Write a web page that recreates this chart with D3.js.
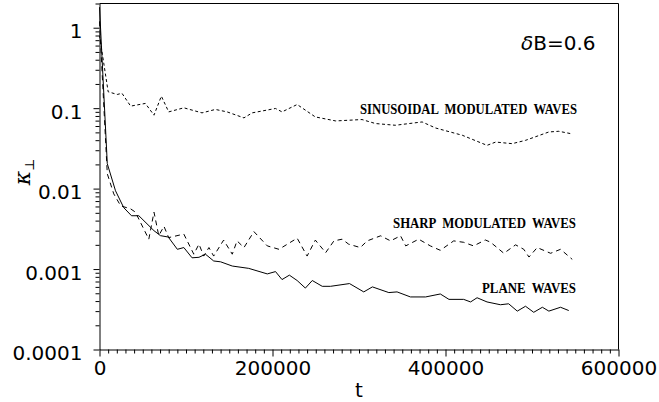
<!DOCTYPE html>
<html>
<head>
<meta charset="utf-8">
<script src="https://cdn.jsdelivr.net/npm/d3@7"></script>
<style>
  body { margin: 0; background: #fff; }
  svg { display: block; }
</style>
</head>
<body>
<script>
'use strict';

// plane waves (solid line)
const planeT = [0, 9000, 18500, 28000, 37000, 45500, 63000, 70500, 79500, 90000, 97500,
  107000, 115000, 122500, 132000, 140000, 153500, 172500, 194000, 203500, 211000,
  219500, 228500, 238000, 246000, 257500, 267000, 289000, 305500, 315500, 334500,
  344000, 359500, 377000, 394000, 404000, 421000, 429000, 436500, 448000, 463500,
  473000, 483000, 492500, 502000, 512000, 519500, 533000, 542500];
const planeK = [1.8, 0.0204, 0.0094, 0.0058, 0.0046, 0.0046, 0.0030, 0.0026, 0.0025, 0.00176, 0.00185,
  0.00138, 0.0014, 0.00153, 0.00126, 0.00123, 0.00109, 0.00102, 0.00087, 0.00093, 0.00074,
  0.00084, 0.00072, 0.00058, 0.00072, 0.00061, 0.00061, 0.00066, 0.00052, 0.00060, 0.00051,
  0.00052, 0.00045, 0.00045, 0.00049, 0.00042, 0.00042, 0.00039, 0.00044, 0.00039, 0.00036,
  0.00037, 0.00030, 0.000345, 0.00029, 0.000335, 0.00030, 0.000335, 0.000305];

// sharp modulated waves (dashed line)
const sharpT = [0, 9000, 16500, 24500, 36000, 41500, 57000, 63000, 68500, 74500,
  80000, 97500, 109000, 115000, 120500, 126500, 132000, 143500, 153500, 159000,
  167000, 178500, 194000, 207500, 228500, 240000, 249500, 261500, 271000, 280500,
  288000, 301500, 309500, 325000, 336500, 348000, 354000, 369000, 382500, 394000,
  409500, 421000, 432500, 446000, 452000, 467500, 481000, 490500, 496500, 506000,
  521500, 533000, 546500];
const sharpK = [1.2, 0.0153, 0.0086, 0.0061, 0.0056, 0.0051, 0.00235, 0.0051, 0.0026, 0.0034,
  0.00246, 0.00272, 0.00153, 0.00204, 0.00145, 0.00185, 0.00145, 0.00229, 0.00153, 0.00224,
  0.00185, 0.00292, 0.00194, 0.00176, 0.00242, 0.00145, 0.00229, 0.0016, 0.00224, 0.00235,
  0.00204, 0.00185, 0.00224, 0.00259, 0.00224, 0.00259, 0.00194, 0.00235, 0.00194, 0.00171,
  0.00224, 0.00215, 0.00194, 0.0023, 0.00216, 0.00157, 0.002, 0.00176, 0.00141, 0.00185,
  0.00157, 0.00176, 0.00132];

// sinusoidal modulated waves (dotted line)
const sinT = [0, 10000, 20500, 26000, 36000, 53000, 63000, 71500, 80000, 97500,
  118500, 134000, 147500, 167000, 176500, 203500, 211000, 228500, 249500, 273000,
  303500, 319000, 342000, 373000, 388500, 419500, 448000, 458000, 477000, 492500,
  519500, 531000, 544500];
const sinK = [0.8, 0.160, 0.148, 0.153, 0.106, 0.1145, 0.0818, 0.141, 0.0899, 0.101,
  0.0874, 0.0964, 0.0899, 0.0757, 0.0874, 0.0991, 0.0899, 0.111, 0.0778, 0.0694,
  0.0722, 0.0644, 0.0613, 0.0674, 0.0567, 0.046, 0.0345, 0.0379, 0.0362, 0.0398,
  0.0506, 0.0516, 0.0483];

// tick values and labels
const xTicks = [0, 200000, 400000, 600000];
const xTickLabels = ['0', '200000', '400000', '600000'];
const yTicks = [0.0001, 0.001, 0.01, 0.1, 1];
const yTickLabels = ['0.0001', '0.001', '0.01', '0.1', '1'];

// curve annotations
const curveNames = ['SINUSOIDAL  MODULATED  WAVES', 'SHARP  MODULATED  WAVES', 'PLANE  WAVES'];

(function() {

  const W = 659, H = 402;
  const box = {left: 99.5, right: 618.5, top: 3.5, bottom: 349.5};
  let svgContainer = '';

  window.onload = function() {
    svgContainer = d3.select('body')
      .append('svg')
      .attr('width', W)
      .attr('height', H);

    let map = drawAxes();
    plotData(map);
    makeLabels(map);
  }

  // draw frame, axes, major + minor ticks
  function drawAxes() {
    let xScale = d3.scaleLinear()
      .domain([0, 600000])
      .range([box.left, box.right]);

    let yScale = d3.scaleLog()
      .domain([0.0001, 2])
      .range([box.bottom, box.top]);

    // minor ticks: every 10000 on x, 2..9 per decade on y
    let xMinor = d3.range(0, 600001, 10000).filter(v => v % 200000 != 0);
    let yMinor = [];
    [0.0001, 0.001, 0.01, 0.1, 1].forEach(function(d) {
      for (let m = 2; m <= 9; m++) {
        if (d * m <= 2) yMinor.push(d * m);
      }
    });

    // frame (top and right edges)
    svgContainer.append('path')
      .attr('d', 'M' + box.left + ',' + box.top + 'H' + box.right + 'V' + box.bottom)
      .attr('fill', 'none')
      .attr('stroke', '#000')
      .attr('stroke-width', 1);

    // x axis
    svgContainer.append('g')
      .attr('transform', 'translate(0,' + box.bottom + ')')
      .call(d3.axisBottom(xScale).tickSize(4).tickSizeOuter(0).tickValues(xMinor).tickFormat(''))
      .call(g => g.select('.domain').remove());

    let xAxis = svgContainer.append('g')
      .attr('transform', 'translate(0,' + box.bottom + ')')
      .call(d3.axisBottom(xScale)
        .tickValues(xTicks)
        .tickSize(7)
        .tickSizeOuter(0)
        .tickPadding(4)
        .tickFormat((d, i) => xTickLabels[i]));

    // y axis
    svgContainer.append('g')
      .attr('transform', 'translate(' + box.left + ',0)')
      .call(d3.axisLeft(yScale).tickSize(4).tickSizeOuter(0).tickValues(yMinor).tickFormat(''))
      .call(g => g.select('.domain').remove());

    let yAxis = svgContainer.append('g')
      .attr('transform', 'translate(' + box.left + ',0)')
      .call(d3.axisLeft(yScale)
        .tickValues(yTicks)
        .tickSize(6)
        .tickSizeOuter(0)
        .tickPadding(11)
        .tickFormat((d, i) => yTickLabels[i]));

    svgContainer.selectAll('.tick line').attr('stroke', '#000');
    svgContainer.selectAll('.domain').attr('stroke', '#000');

    xAxis.selectAll('text')
      .style('font-family', 'DejaVu Sans')
      .style('font-size', '20px')
      .attr('fill', '#000');

    yAxis.selectAll('text')
      .style('font-family', 'DejaVu Sans')
      .style('font-size', '20px')
      .attr('dy', '0.5em')
      .attr('fill', '#000');

    return {x: xScale, y: yScale};
  }

  // draw the three curves
  function plotData(map) {
    let line = d3.line()
      .x(d => map.x(d.t))
      .y(d => map.y(d.k));

    let series = [
      {t: planeT, k: planeK, dash: null},
      {t: sharpT, k: sharpK, dash: '5,4'},
      {t: sinT, k: sinK, dash: '3,2.5'}
    ];

    series.forEach(function(s) {
      let pts = s.t.map((t, i) => ({t: t, k: s.k[i]}));
      svgContainer.append('path')
        .datum(pts)
        .attr('d', line)
        .attr('fill', 'none')
        .attr('stroke', '#000')
        .attr('stroke-width', 1)
        .attr('stroke-dasharray', s.dash);
    });
  }

  // axis titles, δB label and curve annotations
  function makeLabels(map) {
    svgContainer.append('text')
      .attr('x', box.left + (box.right - box.left) / 2)
      .attr('y', 397)
      .attr('text-anchor', 'middle')
      .style('font-family', 'DejaVu Sans')
      .style('font-size', '20px')
      .attr('fill', '#000')
      .text('t');

    let kappa = svgContainer.append('text')
      .attr('transform', 'translate(30, 172)rotate(-90)')
      .attr('text-anchor', 'middle')
      .style('font-family', 'DejaVu Serif')
      .attr('fill', '#000');
    kappa.append('tspan')
      .style('font-size', '22px')
      .style('font-style', 'italic')
      .text('κ');
    kappa.append('tspan')
      .attr('dy', 4)
      .style('font-size', '13px')
      .text('⊥');

    let db = svgContainer.append('text')
      .attr('x', 521)
      .attr('y', 50)
      .style('font-family', 'DejaVu Sans')
      .style('font-size', '20px')
      .attr('fill', '#000');
    db.append('tspan').style('font-style', 'italic').text('δ');
    db.append('tspan').text('B=0.6');

    let annot = [
      {x: 360, y: 114, w: 217},
      {x: 393, y: 228, w: 183},
      {x: 482, y: 293, w: 94}
    ];
    annot.forEach(function(a, i) {
      svgContainer.append('text')
        .attr('x', a.x)
        .attr('y', a.y)
        .attr('textLength', a.w)
        .attr('lengthAdjust', 'spacingAndGlyphs')
        .style('white-space', 'pre')
        .style('font-family', 'Liberation Serif')
        .style('font-weight', 'bold')
        .style('font-size', '14px')
        .attr('fill', '#000')
        .text(curveNames[i]);
    });
  }

})();
</script>
</body>
</html>
